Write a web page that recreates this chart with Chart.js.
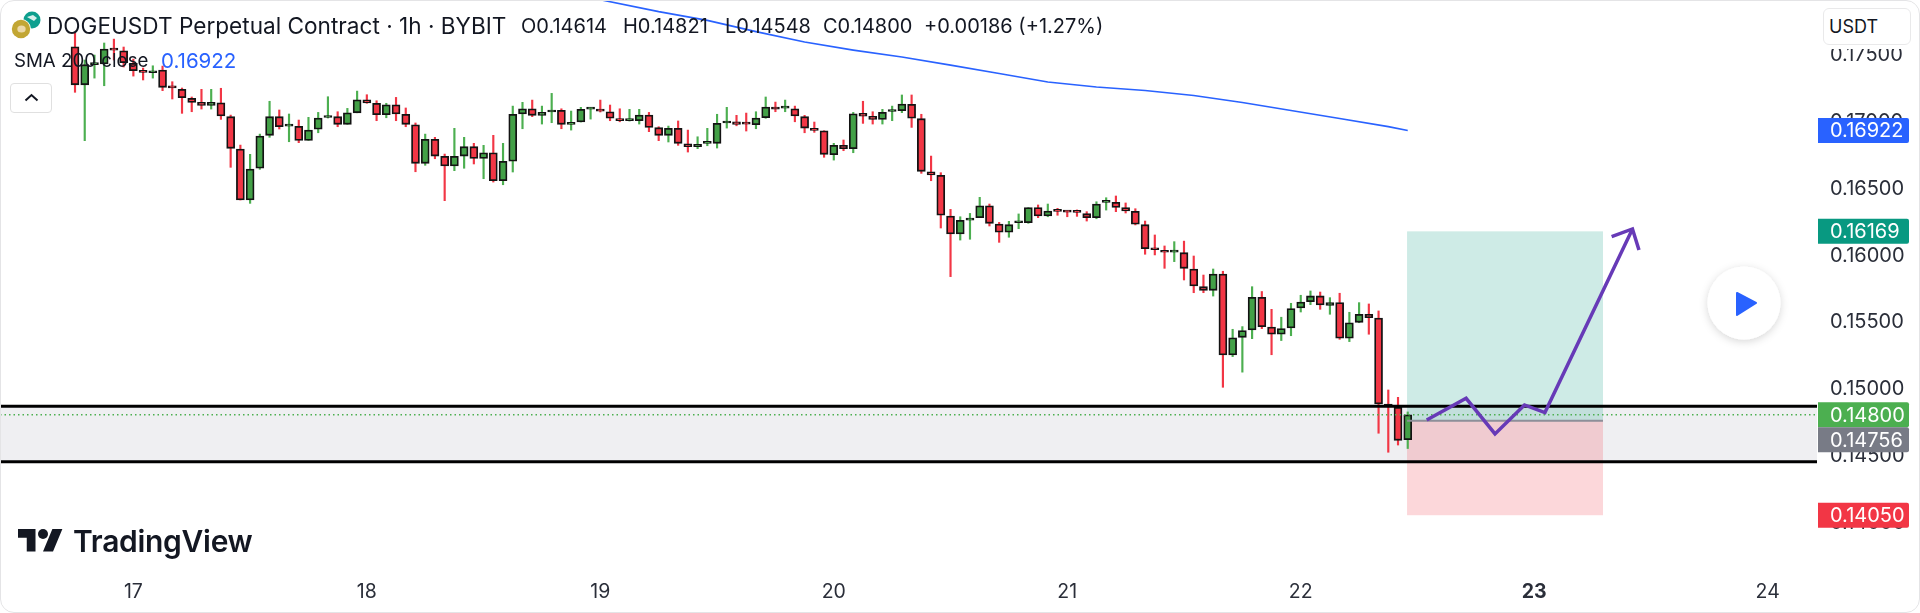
<!DOCTYPE html>
<html>
<head>
<meta charset="utf-8">
<title>DOGEUSDT Perpetual Contract</title>
<script src="https://cdn.jsdelivr.net/npm/chart.js@4"></script>
<style>
  html, body { margin: 0; padding: 0; background: #fff; }
  #wrap { position: relative; width: 1920px; height: 613px; overflow: hidden; font-family: Inter, sans-serif; color: #131722; }
  #wrap canvas { position: absolute; left: 0; top: 0; }
  .txt { position: absolute; white-space: nowrap; line-height: 1; }
  #card { position: absolute; left: 0; top: 0; width: 1918px; height: 611px; border: 1px solid #e4e4e6; border-radius: 14px; pointer-events: none; }
</style>
</head>
<body>
<div id="wrap">
  <canvas id="priceChart" width="1920" height="613"></canvas>
  <div id="card"></div>

  <svg class="txt" style="left:10px;top:8px" width="36" height="36" viewBox="0 0 36 36">
    <circle cx="22" cy="12" r="8.500" fill="#0e9f8e"/>
    <path d="M17 9 l6 -2 l4 3 l-3 3 z" fill="#d8f0ec"/>
    <circle cx="11" cy="21" r="10" fill="#fff"/>
    <circle cx="11" cy="21" r="9.200" fill="#c2a633"/>
    <ellipse cx="11.500" cy="21" rx="4.200" ry="3.600" fill="#ecd9a8"/>
  </svg>
  <div class="txt" style="left:47px;top:15px;font-size:22.6px">DOGEUSDT Perpetual Contract · 1h · BYBIT</div>
  <div class="txt" style="left:521px;top:16px;font-size:20px">O0.14614</div>
  <div class="txt" style="left:623px;top:16px;font-size:20px">H0.14821</div>
  <div class="txt" style="left:725px;top:16px;font-size:20px">L0.14548</div>
  <div class="txt" style="left:823px;top:16px;font-size:20px">C0.14800</div>
  <div class="txt" style="left:924px;top:16px;font-size:20px">+0.00186 (+1.27%)</div>

  <div class="txt" style="left:14px;top:52px;font-size:18.700px">SMA 200 close</div>
  <div class="txt" style="left:161px;top:51px;font-size:20.500px;color:#2962ff">0.16922</div>

  <div class="txt" style="left:10px;top:83px;width:40px;height:28px;border:1px solid #e0e0e0;border-radius:4px;background:#fff">
    <svg width="40" height="28" viewBox="0 0 40 28"><path d="M14.500 16.500 L20.500 11 L26.500 16.500" fill="none" stroke="#131722" stroke-width="2"/></svg>
  </div>

  <div class="txt" style="left:1823px;top:8px;width:86px;height:41px;background:#fff"></div>
  <div class="txt" style="left:1823px;top:8px;width:86px;height:35px;border:1px solid #e9e9ea;border-radius:6px;background:#fff">
    <span style="position:absolute;left:5px;top:9px;font-size:18px">USDT</span>
  </div>

  <svg class="txt" style="left:1690px;top:250px" width="108" height="108" viewBox="0 0 108 108">
    <defs><filter id="soft" x="-30%" y="-30%" width="160%" height="160%"><feDropShadow dx="0" dy="2" stdDeviation="4" flood-color="#000" flood-opacity="0.16"/></filter></defs>
    <circle cx="54" cy="53" r="36.500" fill="#fff" filter="url(#soft)"/>
    <path d="M47 43 L66 53 L47 65 Z" fill="#2962ff" stroke="#2962ff" stroke-width="2" stroke-linejoin="round"/>
  </svg>

  <svg class="txt" style="left:18px;top:524px" width="45" height="35" viewBox="0 0 36 28">
    <path d="M14 22H7V11H0V4h14v18zM28 22h-8l7.500-18h8L28 22z" fill="#131722"/><circle cx="20" cy="8" r="4" fill="#131722"/>
  </svg>
  <div class="txt" style="left:73px;top:526px;font-size:30px;font-weight:600;color:#131722;letter-spacing:-0.3px">TradingView</div>
</div>

<script>
// candles, one per hour, first one is 16th 18:00
const opens = [
  0.17547,0.17263,0.17414,0.17418,0.17530,0.17517,0.17423,0.17364,0.17353,0.17373,
  0.17246,0.17229,0.17162,0.17132,0.17110,0.17129,0.17025,0.16784,0.16403,0.16640,
  0.16886,0.17025,0.16954,0.16953,0.16848,0.16931,0.17019,0.17025,0.16968,0.17054,
  0.17151,0.17125,0.17040,0.17114,0.17043,0.16965,0.16677,0.16856,0.16729,0.16657,
  0.16731,0.16801,0.16714,0.16756,0.16547,0.16692,0.17045,0.17084,0.17035,0.17060,
  0.17072,0.16968,0.16985,0.17082,0.17080,0.17062,0.17010,0.16995,0.16995,0.17037,
  0.16943,0.16886,0.16938,0.16823,0.16801,0.16826,0.16826,0.16978,0.16987,0.16976,
  0.16965,0.17017,0.17097,0.17089,0.17084,0.17025,0.16938,0.16920,0.16741,0.16811,
  0.16786,0.17050,0.17028,0.17005,0.17064,0.17069,0.17117,0.17010,0.16614,0.16587,
  0.16283,0.16149,0.16253,0.16271,0.16360,0.16224,0.16162,0.16233,0.16234,0.16346,
  0.16284,0.16324,0.16319,0.16317,0.16301,0.16271,0.16385,0.16386,0.16346,0.16319,
  0.16219,0.16038,0.16028,0.16014,0.16010,0.15888,0.15756,0.15729,0.15851,0.15246,
  0.15378,0.15433,0.15677,0.15455,0.15401,0.15448,0.15597,0.15644,0.15687,0.15617,
  0.15637,0.15371,0.15490,0.15550,0.15522,0.14880,0.14855,0.14614
];
const closes = [
  0.17263,0.17413,0.17422,0.17530,0.17522,0.17428,0.17368,0.17356,0.17368,0.17244,
  0.17240,0.17166,0.17132,0.17110,0.17132,0.17030,0.16789,0.16403,0.16634,0.16880,
  0.17025,0.16950,0.16960,0.16848,0.16925,0.17015,0.17025,0.16968,0.17054,0.17151,
  0.17127,0.17040,0.17114,0.17045,0.16968,0.16677,0.16856,0.16731,0.16657,0.16729,
  0.16801,0.16714,0.16756,0.16547,0.16692,0.17043,0.17084,0.17035,0.17057,0.17072,
  0.16968,0.16983,0.17080,0.17088,0.17067,0.17013,0.16995,0.17001,0.17037,0.16945,
  0.16886,0.16938,0.16826,0.16801,0.16819,0.16832,0.16975,0.16989,0.16968,0.16970,
  0.17015,0.17097,0.17082,0.17095,0.17030,0.16940,0.16923,0.16744,0.16811,0.16786,
  0.17047,0.17028,0.17005,0.17057,0.17070,0.17119,0.17013,0.16617,0.16590,0.16289,
  0.16149,0.16251,0.16268,0.16360,0.16229,0.16162,0.16219,0.16239,0.16346,0.16284,
  0.16321,0.16318,0.16313,0.16311,0.16271,0.16373,0.16391,0.16348,0.16321,0.16222,
  0.16040,0.16032,0.16013,0.16020,0.15893,0.15761,0.15729,0.15851,0.15246,0.15375,
  0.15428,0.15677,0.15457,0.15401,0.15443,0.15592,0.15642,0.15687,0.15619,0.15637,
  0.15371,0.15487,0.15550,0.15525,0.14880,0.14858,0.14609,0.14800
];
const highs = [
  0.17649,0.17448,0.17485,0.17575,0.17604,0.17545,0.17455,0.17388,0.17405,0.17403,
  0.17286,0.17239,0.17172,0.17229,0.17229,0.17237,0.17037,0.16813,0.16744,0.16895,
  0.17140,0.17075,0.17045,0.17000,0.17020,0.17057,0.17174,0.17062,0.17087,0.17216,
  0.17189,0.17144,0.17125,0.17169,0.17090,0.16978,0.16895,0.16871,0.16746,0.16938,
  0.16871,0.16826,0.16811,0.16886,0.16826,0.17104,0.17132,0.17149,0.17104,0.17199,
  0.17084,0.17067,0.17095,0.17095,0.17149,0.17112,0.17084,0.17080,0.17080,0.17057,
  0.16950,0.16955,0.16993,0.16925,0.16875,0.16938,0.17043,0.17095,0.17035,0.17052,
  0.17062,0.17172,0.17134,0.17149,0.17104,0.17035,0.16985,0.16920,0.16826,0.16851,
  0.17057,0.17140,0.17062,0.17080,0.17104,0.17187,0.17187,0.17043,0.16731,0.16607,
  0.16333,0.16278,0.16303,0.16423,0.16373,0.16236,0.16244,0.16299,0.16346,0.16366,
  0.16373,0.16341,0.16324,0.16329,0.16316,0.16390,0.16420,0.16433,0.16381,0.16338,
  0.16246,0.16142,0.16060,0.16092,0.16096,0.15985,0.15843,0.15888,0.15871,0.15438,
  0.15458,0.15756,0.15720,0.15587,0.15528,0.15632,0.15692,0.15724,0.15716,0.15674,
  0.15707,0.15565,0.15637,0.15627,0.15575,0.14985,0.14930,0.14821
];
const lows = [
  0.17207,0.16846,0.17313,0.17256,0.17448,0.17396,0.17328,0.17299,0.17313,0.17219,
  0.17157,0.17050,0.17062,0.17082,0.17082,0.17005,0.16647,0.16403,0.16378,0.16632,
  0.16871,0.16933,0.16838,0.16831,0.16848,0.16905,0.17015,0.16950,0.16968,0.17054,
  0.17125,0.16995,0.17017,0.16995,0.16950,0.16614,0.16662,0.16711,0.16398,0.16622,
  0.16640,0.16672,0.16562,0.16537,0.16517,0.16612,0.16935,0.17025,0.16970,0.16980,
  0.16935,0.16925,0.16985,0.17007,0.17060,0.16995,0.16987,0.16992,0.16970,0.16913,
  0.16846,0.16836,0.16811,0.16761,0.16786,0.16808,0.16791,0.16940,0.16957,0.16918,
  0.16935,0.17013,0.17062,0.17062,0.16987,0.16905,0.16908,0.16722,0.16701,0.16771,
  0.16756,0.16975,0.16970,0.16970,0.16995,0.17055,0.16945,0.16602,0.16547,0.16194,
  0.15831,0.16104,0.16110,0.16271,0.16209,0.16087,0.16125,0.16189,0.16229,0.16271,
  0.16278,0.16289,0.16278,0.16281,0.16246,0.16263,0.16328,0.16316,0.16306,0.16217,
  0.15998,0.15993,0.15893,0.15943,0.15806,0.15711,0.15711,0.15686,0.15005,0.15234,
  0.15118,0.15368,0.15443,0.15248,0.15354,0.15390,0.15567,0.15622,0.15587,0.15550,
  0.15363,0.15346,0.15487,0.15401,0.14662,0.14520,0.14574,0.14548
];

// SMA 200, read every few candles
const smaHours = [54, 60, 65, 70, 75, 80, 85, 90, 95, 100, 105, 110, 115, 120, 125, 130, 135, 137];
const smaValues = [0.17898, 0.17809, 0.17744, 0.17660, 0.17582, 0.17522, 0.17470, 0.17410, 0.17347, 0.17284, 0.17246, 0.17220, 0.17183, 0.17131, 0.17071, 0.17011, 0.16951, 0.16922];

// hand drawn arrow
const arrowHours = [138.95, 143.0, 145.97, 149.0, 151.1, 160.1];
const arrowPrices = [0.14761, 0.14923, 0.14657, 0.14873, 0.14816, 0.16187];
const headHours = [157.96, 160.1, 160.77];
const headPrices = [0.16130, 0.16187, 0.16030];

const zoneTop = 0.14863;
const zoneBottom = 0.14450;
const lastPrice = 0.14800;
const entryPrice = 0.14756;
const targetPrice = 0.16169;
const stopPrice = 0.14050;
const positionHours = [136.93, 157.07];

const tagPrices = [0.16922, 0.16169, 0.14800, 0.14756, 0.14050];
const tagColors = ['#2962ff', '#089981', '#4caf50', '#787b86', '#f23645'];

const dayTicks = [6, 30, 54, 78, 102, 126, 150, 174];
const dayLabels = ['17', '18', '19', '20', '21', '22', '23', '24'];
const priceTicks = [0.140, 0.145, 0.150, 0.155, 0.160, 0.165, 0.170, 0.175];

const xMin = -7.71;
const xMax = 179.07;

const RED = '#f23645';
const GREEN = '#43a047';
const WICK_GREEN = '#4caf50';
const TAG_HEIGHT = 25;

function isUp(i) {
    return closes[i] >= opens[i];
}

function flatLine(price) {
    return [{ x: xMin, y: price }, { x: xMax, y: price }];
}

// grey zone and the long position boxes, under the candles
const areasPlugin = {
    id: 'areas',
    beforeDatasetsDraw(chart) {
        const { ctx, scales: { x, y }, chartArea } = chart;
        const left = x.getPixelForValue(positionHours[0]);
        const right = x.getPixelForValue(positionHours[1]);
        const entry = y.getPixelForValue(entryPrice);
        ctx.save();
        ctx.fillStyle = 'rgba(120, 120, 150, 0.12)';
        const zy = y.getPixelForValue(zoneTop);
        ctx.fillRect(chartArea.left, zy, chartArea.right - chartArea.left, y.getPixelForValue(zoneBottom) - zy);
        ctx.fillStyle = 'rgba(8, 153, 129, 0.2)';
        const ty = y.getPixelForValue(targetPrice);
        ctx.fillRect(left, ty, right - left, entry - ty);
        ctx.fillStyle = 'rgba(242, 54, 69, 0.2)';
        ctx.fillRect(left, entry, right - left, y.getPixelForValue(stopPrice) - entry);
        ctx.restore();
    }
};

// coloured price tags on the axis, a tag that would overlap the one above is pushed down
const tagsPlugin = {
    id: 'tags',
    afterDraw(chart) {
        const { ctx, scales: { y }, chartArea } = chart;
        let lastBottom = 0;
        ctx.save();
        ctx.textBaseline = 'middle';
        ctx.font = '20px Inter';
        tagPrices.forEach((price, i) => {
            const top = Math.max(y.getPixelForValue(price) - TAG_HEIGHT / 2, lastBottom);
            lastBottom = top + TAG_HEIGHT;
            ctx.fillStyle = tagColors[i];
            ctx.beginPath();
            ctx.roundRect(chartArea.right + 1, top, 91, TAG_HEIGHT, [0, 2, 2, 0]);
            ctx.fill();
            ctx.fillStyle = '#fff';
            ctx.fillText(price.toFixed(5), 1830, top + TAG_HEIGHT / 2 + 1);
        });
        ctx.restore();
    }
};

const indexes = opens.map((_, i) => i);

const chart = new Chart(document.getElementById('priceChart'), {
    type: 'bar',
    data: {
        datasets: [
            {
                label: 'Wicks',
                data: indexes.map(i => ({ x: i, y: [lows[i], highs[i]] })),
                backgroundColor: indexes.map(i => isUp(i) ? WICK_GREEN : RED),
                barThickness: 1.5,
                grouped: false,
                order: 6
            },
            {
                label: 'Candles',
                data: indexes.map(i => ({ x: i, y: [opens[i], closes[i]] })),
                backgroundColor: indexes.map(i => isUp(i) ? GREEN : RED),
                borderColor: '#131313',
                borderWidth: 1.8,
                borderSkipped: false,
                barThickness: 8,
                minBarLength: 2,
                grouped: false,
                order: 5
            },
            {
                type: 'line',
                label: 'SMA 200 close',
                data: smaHours.map((h, i) => ({ x: h, y: smaValues[i] })),
                borderColor: '#2962ff',
                borderWidth: 1.6,
                pointRadius: 0,
                order: 4
            },
            {
                type: 'line',
                label: 'Zone top',
                data: flatLine(zoneTop),
                borderColor: '#000',
                borderWidth: 3,
                pointRadius: 0,
                order: 3
            },
            {
                type: 'line',
                label: 'Zone bottom',
                data: flatLine(zoneBottom),
                borderColor: '#000',
                borderWidth: 3,
                pointRadius: 0,
                order: 3
            },
            {
                type: 'line',
                label: 'Last price',
                data: flatLine(lastPrice),
                borderColor: '#4caf50',
                borderWidth: 1.5,
                borderDash: [1.5, 3],
                pointRadius: 0,
                order: 3
            },
            {
                type: 'line',
                label: 'Entry',
                data: positionHours.map(h => ({ x: h, y: entryPrice })),
                borderColor: '#8d8f99',
                borderWidth: 2,
                pointRadius: 0,
                order: 2
            },
            {
                type: 'line',
                label: 'Arrow',
                data: arrowHours.map((h, i) => ({ x: h, y: arrowPrices[i] })),
                borderColor: '#673ab7',
                borderWidth: 3.5,
                pointRadius: 0,
                order: 1
            },
            {
                type: 'line',
                label: 'Arrow head',
                data: headHours.map((h, i) => ({ x: h, y: headPrices[i] })),
                borderColor: '#673ab7',
                borderWidth: 3.5,
                pointRadius: 0,
                order: 1
            }
        ]
    },
    options: {
        responsive: false,
        animation: false,
        layout: { autoPadding: false, padding: 0 },
        plugins: { legend: { display: false }, tooltip: { enabled: false } },
        scales: {
            x: {
                type: 'linear',
                min: xMin,
                max: xMax,
                offset: false,
                grid: { display: false, drawTicks: false },
                border: { display: false },
                afterFit: axis => {
                    axis.height = 47;
                    axis.paddingLeft = 0;
                    axis.paddingRight = 0;
                },
                afterBuildTicks: axis => { axis.ticks = dayTicks.map(v => ({ value: v })); },
                ticks: {
                    autoSkip: false,
                    maxRotation: 0,
                    padding: 14,
                    color: '#2a2e39',
                    font: ctx => ({ family: 'Inter', size: 19.5, weight: ctx.tick && ctx.tick.value === 150 ? '700' : '400' }),
                    callback: value => dayLabels[dayTicks.indexOf(value)]
                }
            },
            y: {
                position: 'right',
                min: 0.13671,
                max: 0.17896,
                grid: { display: false, drawTicks: false },
                border: { display: false },
                afterFit: axis => {
                    axis.width = 103;
                    axis.paddingTop = 0;
                    axis.paddingBottom = 0;
                },
                afterBuildTicks: axis => { axis.ticks = priceTicks.map(v => ({ value: v })); },
                ticks: {
                    padding: 13,
                    labelOffset: 1.5,
                    color: '#2a2e39',
                    font: { family: 'Inter', size: 20 },
                    callback: value => value.toFixed(5)
                }
            }
        }
    },
    plugins: [areasPlugin, tagsPlugin]
});
</script>
</body>
</html>
